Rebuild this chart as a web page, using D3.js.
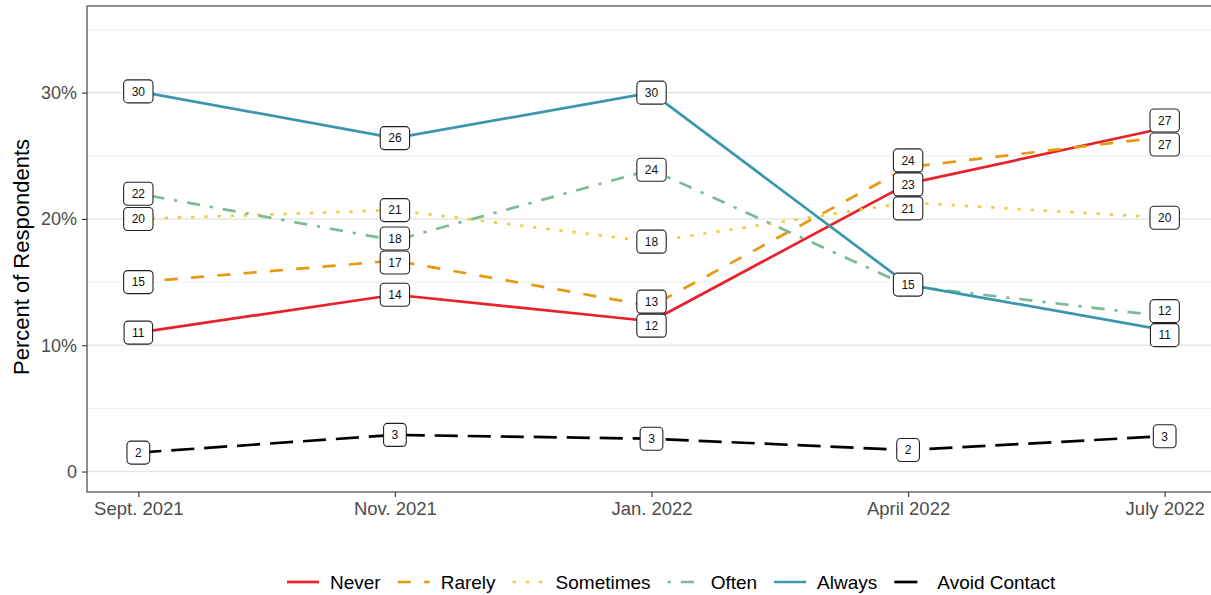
<!DOCTYPE html>
<html>
<head>
<meta charset="utf-8">
<script src="https://cdn.jsdelivr.net/npm/d3@7"></script>
<style>
  body { margin: 0; background: #fff; }
  svg { display: block; font-family: "Liberation Sans", Arial, Helvetica, sans-serif; }
</style>
</head>
<body>
<svg id="chart" width="1211" height="595"></svg>
<script>
// ---- data ----
const categories = ["Sept. 2021", "Nov. 2021", "Jan. 2022", "April 2022", "July 2022"];
const seriesNames = ["Never", "Rarely", "Sometimes", "Often", "Always", "Avoid Contact"];
const never      = [11.0, 14.0, 11.9, 22.8, 27.2];
const rarely     = [15.0, 16.7, 13.1, 24.1, 26.5];
const sometimes  = [20.0, 20.7, 18.2, 21.3, 20.1];
const often      = [22.0, 18.3, 23.9, 14.7, 12.3];
const always     = [30.1, 26.4, 30.0, 14.8, 11.2];
const avoid      = [1.5, 2.9, 2.6, 1.7, 2.8];
const yTicks = [0, 10, 20, 30];
const yTickLabels = ["0", "10%", "20%", "30%"];
const yMinorTicks = [5, 15, 25, 35];

const seriesValues = [never, rarely, sometimes, often, always, avoid];
const colors = ["#e8222a", "#e69a0e", "#eacf45", "#7dbb97", "#3b97ae", "#000000"];
const unit = 3.3;
const dashes = [
  null,
  [4, 4],
  [1, 3],
  [1, 3, 4, 3],
  null,
  [7, 3]
].map(d => d ? d.map(v => v * unit).join(",") : null);

// ---- layout ----
const svg = d3.select("#chart");
const P = { left: 87, right: 1216, top: 6, bottom: 492 };

const x = d3.scalePoint().domain(categories).range([P.left, P.right]).padding(0.2);
const y = d3.scaleLinear().domain([-1.62, 36.86]).range([P.bottom, P.top]);

const defs = svg.append("defs");
defs.append("clipPath").attr("id", "clip").append("rect")
  .attr("x", P.left).attr("y", P.top).attr("width", P.right - P.left).attr("height", P.bottom - P.top);

const panel = svg.append("g").attr("clip-path", "url(#clip)");
panel.append("rect").attr("x", P.left).attr("y", P.top)
  .attr("width", P.right - P.left).attr("height", P.bottom - P.top).attr("fill", "#fff");

// minor grid
panel.selectAll("line.minor").data(yMinorTicks).enter().append("line")
  .attr("x1", P.left).attr("x2", P.right)
  .attr("y1", d => y(d)).attr("y2", d => y(d))
  .attr("stroke", "#f0f0f0").attr("stroke-width", 1);
// major grid
panel.selectAll("line.major").data(yTicks).enter().append("line")
  .attr("x1", P.left).attr("x2", P.right)
  .attr("y1", d => y(d)).attr("y2", d => y(d))
  .attr("stroke", "#e6e6e6").attr("stroke-width", 1.6);

// lines
const line = d3.line().x((d, i) => x(categories[i])).y(d => y(d));
seriesValues.forEach((vals, s) => {
  panel.append("path")
    .datum(vals)
    .attr("d", line)
    .attr("fill", "none")
    .attr("stroke", colors[s])
    .attr("stroke-width", 2.7)
    .attr("stroke-linecap", "butt")
    .attr("stroke-linejoin", "round")
    .attr("stroke-dasharray", dashes[s]);
});

// labels with simple vertical repel per column
const minSep = 24;
const labelLayer = panel.append("g");
categories.forEach((c, ci) => {
  let items = seriesValues.map((vals, s) => ({ s, v: vals[ci], t: String(Math.round(vals[ci])), ly: y(vals[ci]) }));
  // merge identical labels sitting on the same spot
  items = items.filter((it, i) => !items.some((o, j) => j > i && o.t === it.t && Math.abs(o.ly - it.ly) < 4));
  items.sort((a, b) => a.ly - b.ly);
  for (let iter = 0; iter < 200; iter++) {
    let moved = false;
    for (let i = 1; i < items.length; i++) {
      const d = items[i].ly - items[i - 1].ly;
      if (d < minSep) {
        const sh = (minSep - d) / 2;
        items[i - 1].ly -= sh; items[i].ly += sh; moved = true;
      }
    }
    if (!moved) break;
  }
  items.forEach(it => {
    const g = labelLayer.append("g").attr("transform", `translate(${x(c)},${it.ly})`);
    const txt = g.append("text").text(it.t)
      .attr("text-anchor", "middle").attr("dy", "0.36em")
      .attr("font-size", 12).attr("fill", "#111");
    const w = txt.node().getComputedTextLength() + 16;
    const h = 23;
    g.insert("rect", "text")
      .attr("x", -w / 2).attr("y", -h / 2).attr("width", w).attr("height", h)
      .attr("rx", 4).attr("ry", 4)
      .attr("fill", "#fff").attr("stroke", "#222").attr("stroke-width", 1.1);
  });
});

// panel border
svg.append("rect").attr("x", P.left).attr("y", P.top)
  .attr("width", P.right - P.left).attr("height", P.bottom - P.top)
  .attr("fill", "none").attr("stroke", "#444").attr("stroke-width", 1.2);

// axes
const yAxis = svg.append("g").attr("transform", `translate(${P.left},0)`)
  .call(d3.axisLeft(y).tickValues(yTicks).tickFormat((d, i) => yTickLabels[i]).tickSize(5).tickPadding(5));
yAxis.select(".domain").remove();
yAxis.selectAll(".tick line").attr("stroke", "#333").attr("stroke-width", 1.1);
yAxis.selectAll(".tick text").attr("font-size", 18).attr("fill", "#4d4d4d")
  .attr("font-family", "Liberation Sans, Arial, sans-serif");

const xAxis = svg.append("g").attr("transform", `translate(0,${P.bottom})`)
  .call(d3.axisBottom(x).tickSize(5).tickPadding(5));
xAxis.select(".domain").remove();
xAxis.selectAll(".tick line").attr("stroke", "#333").attr("stroke-width", 1.1);
xAxis.selectAll(".tick text").attr("font-size", 18.5).attr("fill", "#4d4d4d")
  .attr("font-family", "Liberation Sans, Arial, sans-serif");

// y title
svg.append("text")
  .attr("transform", `translate(29,${(P.top + P.bottom) / 2 + 8}) rotate(-90)`)
  .attr("text-anchor", "middle")
  .attr("font-size", 22).attr("fill", "#000")
  .text("Percent of Respondents");

// legend
const legend = svg.append("g").attr("transform", "translate(287,582)");
let lx = 0;
seriesNames.forEach((name, s) => {
  legend.append("line")
    .attr("x1", lx).attr("x2", lx + 32).attr("y1", 0).attr("y2", 0)
    .attr("stroke", colors[s]).attr("stroke-width", 2.7)
    .attr("stroke-dasharray", dashes[s]);
  const t = legend.append("text").attr("x", lx + 43).attr("y", 0).attr("dy", "0.36em")
    .attr("font-size", 19).attr("fill", "#000").text(name);
  lx += 43 + t.node().getComputedTextLength() + 17;
});
</script>
</body>
</html>
